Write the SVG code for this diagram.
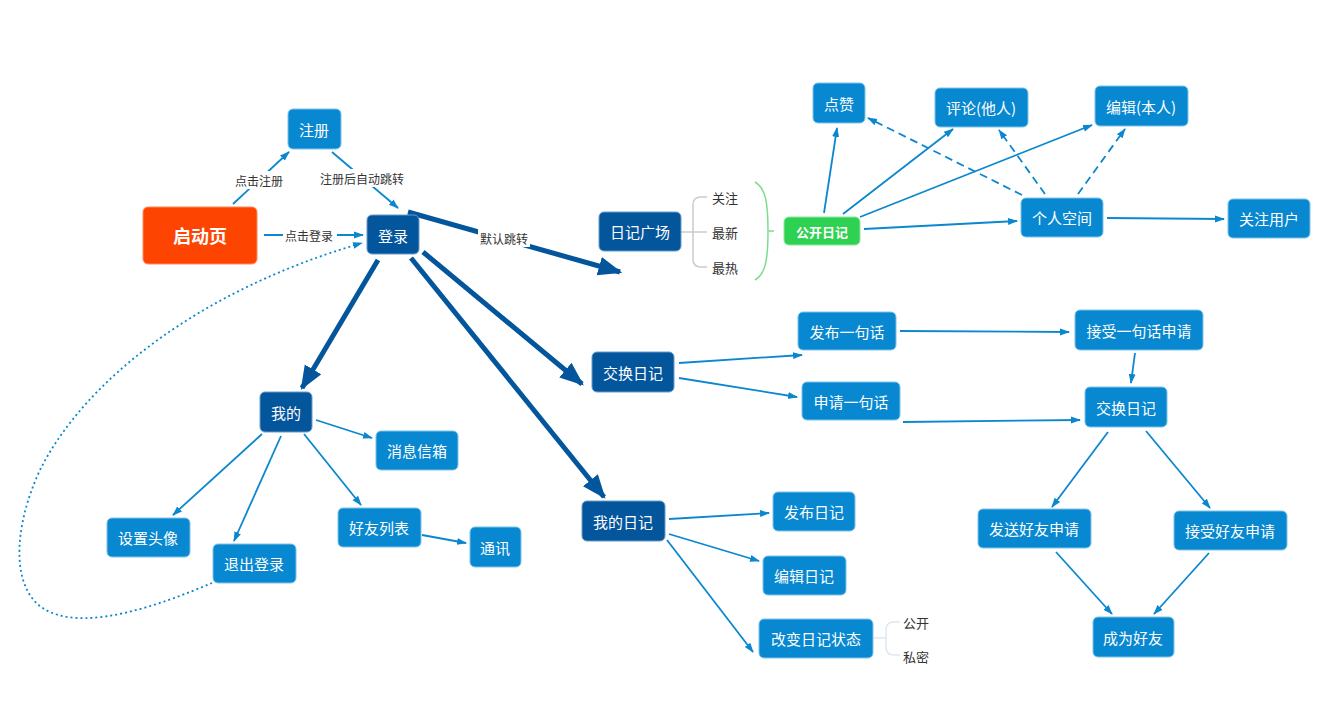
<svg xmlns="http://www.w3.org/2000/svg" width="1332" height="719" viewBox="0 0 1332 719">
<defs>
<style>
.n{fill:#0788d0;stroke:#7fc3ea;stroke-width:1}
.d{fill:#03559c;stroke:#6b9cc9;stroke-width:1}
.t{font-family:"Noto Sans CJK SC","Noto Sans",sans-serif;font-size:15px;fill:#fff;text-anchor:middle;dominant-baseline:central}
.l{fill:none;stroke:#0b87cf;stroke-width:1.8}
.k{fill:none;stroke:#03559c;stroke-width:5}
.dash{stroke-dasharray:8 5}
.lb{font-family:"Noto Sans CJK SC","Noto Sans",sans-serif;font-size:12px;fill:#333;text-anchor:middle;dominant-baseline:central}
.s{font-family:"Noto Sans CJK SC","Noto Sans",sans-serif;font-size:13px;fill:#333;dominant-baseline:central}
</style>
<marker id="a" viewBox="0 0 10 10" refX="9" refY="5" markerWidth="10" markerHeight="10" markerUnits="userSpaceOnUse" orient="auto"><path d="M0,1.5 L10,5 L0,8.5 z" fill="#0b87cf"/></marker>
<marker id="b" viewBox="0 0 10 10" refX="9" refY="5" markerWidth="24" markerHeight="24" markerUnits="userSpaceOnUse" orient="auto"><path d="M0,1 L10,5 L0,9 z" fill="#03559c"/></marker>
</defs>
<rect width="1332" height="719" fill="#fff"/>
<g id="connectors">
<line class="l" x1="233" y1="204" x2="289" y2="152" marker-end="url(#a)"/>
<line class="l" x1="332" y1="152" x2="398" y2="208" marker-end="url(#a)"/>
<line class="l" x1="264" y1="235" x2="363" y2="235" marker-end="url(#a)"/>
<path class="l" d="M212,583 C160,605 90,630 50,612 C10,595 12,530 40,470 C85,380 200,290 362,243" stroke-dasharray="2 3" stroke-width="2" marker-end="url(#a)"/>
<line class="k" x1="408" y1="212" x2="620" y2="272" marker-end="url(#b)"/>
<line class="k" x1="378" y1="260" x2="302" y2="388" marker-end="url(#b)"/>
<line class="k" x1="423" y1="252" x2="582" y2="384" marker-end="url(#b)"/>
<line class="k" x1="411" y1="258" x2="604" y2="497" marker-end="url(#b)"/>
<line class="l" x1="824" y1="213" x2="837" y2="128" marker-end="url(#a)"/>
<line class="l" x1="843" y1="214" x2="953" y2="129" marker-end="url(#a)"/>
<line class="l" x1="860" y1="217" x2="1092" y2="125" marker-end="url(#a)"/>
<line class="l" x1="864" y1="229" x2="1017" y2="221" marker-end="url(#a)"/>
<line class="l dash" x1="1022" y1="195" x2="868" y2="118" marker-end="url(#a)"/>
<line class="l dash" x1="1045" y1="194" x2="999" y2="130" marker-end="url(#a)"/>
<line class="l dash" x1="1078" y1="194" x2="1125" y2="129" marker-end="url(#a)"/>
<line class="l" x1="1107" y1="218" x2="1224" y2="219" marker-end="url(#a)"/>
<line class="l" x1="679" y1="363" x2="802" y2="355" marker-end="url(#a)"/>
<line class="l" x1="679" y1="378" x2="797" y2="397" marker-end="url(#a)"/>
<line class="l" x1="900" y1="331" x2="1069" y2="332" marker-end="url(#a)"/>
<line class="l" x1="1135" y1="353" x2="1131" y2="383" marker-end="url(#a)"/>
<line class="l" x1="903" y1="422" x2="1080" y2="420" marker-end="url(#a)"/>
<line class="l" x1="1108" y1="432" x2="1052" y2="507" marker-end="url(#a)"/>
<line class="l" x1="1146" y1="431" x2="1210" y2="508" marker-end="url(#a)"/>
<line class="l" x1="1056" y1="552" x2="1112" y2="614" marker-end="url(#a)"/>
<line class="l" x1="1209" y1="553" x2="1154" y2="614" marker-end="url(#a)"/>
<line class="l" x1="316" y1="420" x2="372" y2="438" marker-end="url(#a)"/>
<line class="l" x1="262" y1="434" x2="173" y2="515" marker-end="url(#a)"/>
<line class="l" x1="281" y1="436" x2="234" y2="541" marker-end="url(#a)"/>
<line class="l" x1="304" y1="434" x2="361" y2="505" marker-end="url(#a)"/>
<line class="l" x1="422" y1="535" x2="466" y2="543" marker-end="url(#a)"/>
<line class="l" x1="669" y1="519" x2="769" y2="513" marker-end="url(#a)"/>
<line class="l" x1="669" y1="534" x2="759" y2="561" marker-end="url(#a)"/>
<line class="l" x1="667" y1="540" x2="753" y2="652" marker-end="url(#a)"/>
<path d="M681,232 H707 M707,197 H701 Q693,197 693,205 V259 Q693,267 701,267 H707" fill="none" stroke="#cccccc" stroke-width="1.5"/>
<path d="M755,182 C765,188 768,200 768,231 C768,262 765,274 755,280 M768,231 H774" fill="none" stroke="#7edc8c" stroke-width="1.5"/>
<path d="M873,638 H886 M900,622 H894 Q886,622 886,630 V647 Q886,655 894,655 H900" fill="none" stroke="#dbe9f5" stroke-width="1.5"/>
<rect x="231" y="171" width="56" height="18" fill="#fff"/>
<text class="lb" x="259" y="180">点击注册</text>
<rect x="318" y="169" width="88" height="18" fill="#fff"/>
<text class="lb" x="362" y="178">注册后自动跳转</text>
<rect x="283" y="226" width="54" height="18" fill="#fff"/>
<text class="lb" x="309" y="235">点击登录</text>
<rect x="478" y="229" width="52" height="18" fill="#fff"/>
<text class="lb" x="504" y="238">默认跳转</text>
<text class="s" x="712" y="197">关注</text>
<text class="s" x="712" y="232">最新</text>
<text class="s" x="712" y="267">最热</text>
<text class="s" x="903" y="622">公开</text>
<text class="s" x="903" y="656">私密</text>
</g>
<g id="qidongye"><rect x="143" y="207" width="114" height="57" rx="5" fill="#fe4401" stroke="#ff8a60"/><text class="t" x="200" y="235" style="font-size:18px;font-weight:bold">启动页</text></g>
<g id="zhuce"><rect class="n" x="288" y="109" width="53" height="40" rx="5"/><text class="t" x="314" y="129">注册</text></g>
<g id="denglu"><rect class="d" x="367" y="215" width="52" height="39" rx="5"/><text class="t" x="393" y="235">登录</text></g>
<g id="rijiguangchang"><rect class="d" x="599" y="212" width="82" height="39" rx="5"/><text class="t" x="640" y="231">日记广场</text></g>
<g id="gongkairiji"><rect x="784" y="217" width="76" height="28" rx="5" fill="#2fd152" stroke="#8be79c"/><text class="t" x="822" y="231" style="font-size:13px;font-weight:bold">公开日记</text></g>
<g id="dianzan"><rect class="n" x="813" y="83" width="52" height="40" rx="5"/><text class="t" x="839" y="103">点赞</text></g>
<g id="pinglun"><rect class="n" x="935" y="88" width="93" height="39" rx="5"/><text class="t" x="981" y="107">评论(他人)</text></g>
<g id="bianji"><rect class="n" x="1095" y="86" width="93" height="40" rx="5"/><text class="t" x="1141" y="106">编辑(本人)</text></g>
<g id="gerenkongjian"><rect class="n" x="1021" y="198" width="82" height="39" rx="5"/><text class="t" x="1062" y="217">个人空间</text></g>
<g id="guanzhuyonghu"><rect class="n" x="1228" y="199" width="82" height="39" rx="5"/><text class="t" x="1269" y="218">关注用户</text></g>
<g id="jiaohuanriji"><rect class="d" x="592" y="352" width="82" height="40" rx="5"/><text class="t" x="633" y="372">交换日记</text></g>
<g id="fabuyijuhua"><rect class="n" x="798" y="312" width="98" height="38" rx="5"/><text class="t" x="847" y="331">发布一句话</text></g>
<g id="shenqingyijuhua"><rect class="n" x="802" y="382" width="98" height="38" rx="5"/><text class="t" x="851" y="401">申请一句话</text></g>
<g id="jieshouyijuhua"><rect class="n" x="1075" y="310" width="128" height="40" rx="5"/><text class="t" x="1139" y="330">接受一句话申请</text></g>
<g id="jiaohuanriji2"><rect class="n" x="1085" y="387" width="82" height="40" rx="5"/><text class="t" x="1126" y="407">交换日记</text></g>
<g id="fasonghaoyou"><rect class="n" x="978" y="509" width="113" height="39" rx="5"/><text class="t" x="1034" y="528">发送好友申请</text></g>
<g id="jieshouhaoyou"><rect class="n" x="1174" y="511" width="113" height="39" rx="5"/><text class="t" x="1230" y="530">接受好友申请</text></g>
<g id="chengweihaoyou"><rect class="n" x="1093" y="617" width="81" height="40" rx="5"/><text class="t" x="1133" y="637">成为好友</text></g>
<g id="wode"><rect class="d" x="260" y="392" width="52" height="40" rx="5"/><text class="t" x="286" y="412">我的</text></g>
<g id="xiaoxixinxiang"><rect class="n" x="376" y="431" width="82" height="39" rx="5"/><text class="t" x="417" y="450">消息信箱</text></g>
<g id="shezhitouxiang"><rect class="n" x="107" y="518" width="83" height="39" rx="5"/><text class="t" x="148" y="537">设置头像</text></g>
<g id="tuichudenglu"><rect class="n" x="213" y="544" width="83" height="39" rx="5"/><text class="t" x="254" y="563">退出登录</text></g>
<g id="haoyouliebiao"><rect class="n" x="338" y="508" width="83" height="39" rx="5"/><text class="t" x="379" y="527">好友列表</text></g>
<g id="tongxun"><rect class="n" x="470" y="527" width="51" height="40" rx="5"/><text class="t" x="495" y="547">通讯</text></g>
<g id="woderiji"><rect class="d" x="582" y="501" width="83" height="40" rx="5"/><text class="t" x="623" y="521">我的日记</text></g>
<g id="faburiji"><rect class="n" x="773" y="492" width="82" height="39" rx="5"/><text class="t" x="814" y="511">发布日记</text></g>
<g id="bianjiriji"><rect class="n" x="763" y="556" width="83" height="39" rx="5"/><text class="t" x="804" y="575">编辑日记</text></g>
<g id="gaibianzhuangtai"><rect class="n" x="759" y="619" width="114" height="39" rx="5"/><text class="t" x="816" y="638">改变日记状态</text></g>
</svg>
